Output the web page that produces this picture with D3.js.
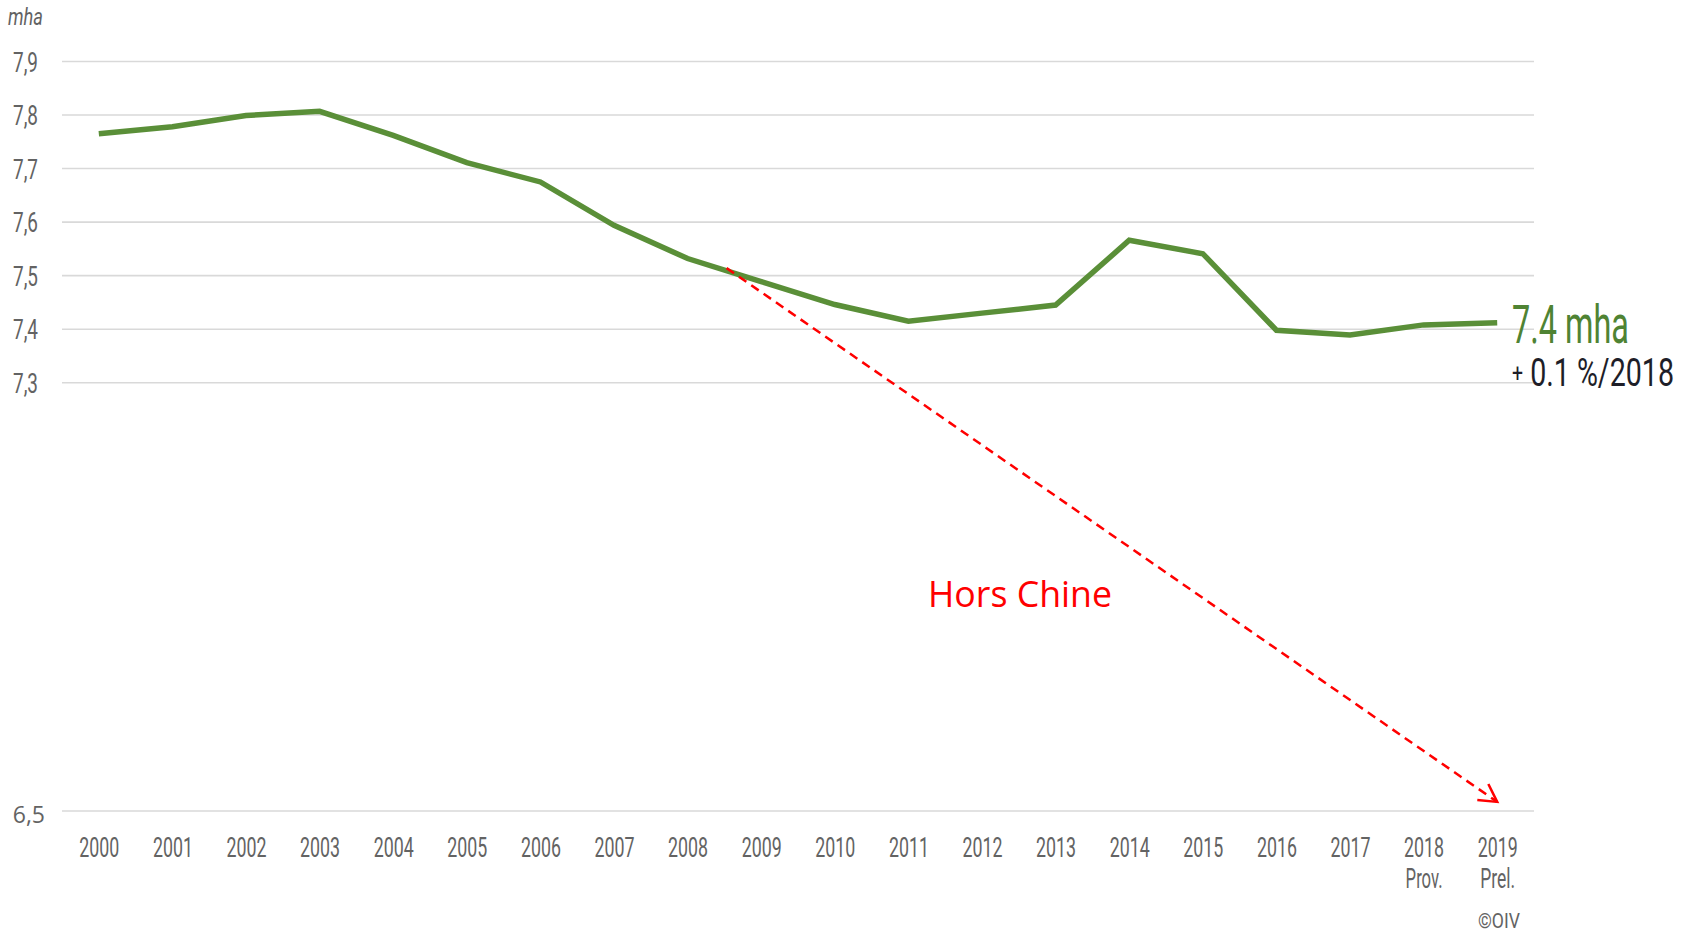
<!DOCTYPE html>
<html>
<head>
<meta charset="utf-8">
<script src="https://cdn.jsdelivr.net/npm/d3@7"></script>
<style>
  html, body { margin: 0; padding: 0; background: #fff; }
  svg { display: block; }
</style>
</head>
<body>
<svg id="chart" width="1696" height="933"></svg>
<script>
// ---- data ----
const years = ["2000","2001","2002","2003","2004","2005","2006","2007","2008","2009",
               "2010","2011","2012","2013","2014","2015","2016","2017","2018","2019"];
const yearNotes = ["","","","","","","","","","","","","","","","","","","Prov.","Prel."];
const area = [7.765, 7.778, 7.799, 7.807, 7.762, 7.711, 7.675, 7.594, 7.532, 7.489,
              7.446, 7.415, 7.430, 7.445, 7.566, 7.541, 7.398, 7.389, 7.408, 7.412];
const yTicks = [6.5, 7.3, 7.4, 7.5, 7.6, 7.7, 7.8, 7.9];
const yTickLabels = ["6,5", "7,3", "7,4", "7,5", "7,6", "7,7", "7,8", "7,9"];
// "Hors Chine" trend arrow (x as year index, y as value)
const trendX = [8.53, 19];
const trendY = [7.514, 6.517];
const unitLabel = "mha";
const lastValueLabel = "7.4 mha";
const changeLabel = ["+", " 0.1 %/2018"];
const trendLabel = "Hors Chine";
const sourceLabel = "©OIV";

// ---- setup ----
const svg = d3.select("#chart");
const x = d3.scaleLinear().domain([-0.5, years.length - 0.5]).range([62, 1534]);
const y = d3.scaleLinear().domain([6.5, 7.9]).range([811, 61.5]);

const grey = "#636363";
const cond = "Roboto, 'Liberation Sans', sans-serif";

// condensed text: font sized so natural width = target width, stretched vertically
function condText(parent, tx, ty, parts, opts) {
  const list = Array.isArray(parts) ? parts : [{ text: parts }];
  const g = parent.append("g");
  const t = g.append("text").attr("x", 0).attr("y", 0)
    .attr("font-family", opts.family || cond)
    .attr("font-size", opts.size)
    .attr("fill", opts.fill || grey)
    .attr("text-anchor", opts.anchor || "start");
  if (opts.italic) t.attr("font-style", "italic");
  list.forEach(p => {
    const s = t.append("tspan").text(p.text);
    if (p.rel) s.attr("font-size", opts.size * p.rel);
    if (p.dy != null) s.attr("dy", p.dy);
  });
  const w = t.node().getComputedTextLength();
  const f1 = opts.size * opts.width / w;
  t.attr("font-size", f1);
  t.selectAll("tspan").each(function(p, i) {
    const pp = list[i];
    if (pp.rel) d3.select(this).attr("font-size", f1 * pp.rel);
    if (pp.dy != null) d3.select(this).attr("dy", pp.dy * f1 / opts.size);
  });
  const sy = opts.size / f1;
  g.attr("transform", `translate(${tx},${ty}) scale(1,${sy})`);
  return g;
}

// gridlines
svg.append("g").selectAll("line").data(yTicks).join("line")
  .attr("x1", x.range()[0]).attr("x2", x.range()[1])
  .attr("y1", d => y(d)).attr("y2", d => y(d))
  .attr("stroke", "#d9d9d9").attr("stroke-width", 1.6);

// y axis labels
const yAxis = d3.axisLeft(y).tickValues(yTicks).tickSize(0)
  .tickFormat((d, i) => yTickLabels[i]);
const gy = svg.append("g").attr("transform", `translate(${x.range()[0]},0)`).call(yAxis);
gy.select(".domain").remove();
gy.selectAll(".tick").each(function(d, i) {
  const g = d3.select(this);
  g.select("text").remove();
  if (d === 6.5) {
    g.append("text").attr("x", -17).attr("y", 3).attr("dy", "0.36em").attr("text-anchor", "end")
      .attr("font-family", "'Open Sans', sans-serif").attr("font-size", 23)
      .attr("fill", grey).text(yTickLabels[i]);
  } else {
    condText(g, -24, 9.6, yTickLabels[i], { size: 27, width: 25, anchor: "end" });
  }
});

// unit label
condText(svg, 8, 25, unitLabel, { size: 23, width: 35, italic: true });

// x axis labels
const xAxis = d3.axisBottom(x).tickValues(d3.range(years.length)).tickSize(0)
  .tickFormat(i => years[i]);
const gx = svg.append("g").attr("transform", `translate(0,${y(6.5)})`).call(xAxis);
gx.select(".domain").remove();
gx.selectAll(".tick").each(function(i) {
  const g = d3.select(this);
  g.select("text").remove();
  condText(g, 0, 46, years[i], { size: 27, width: 40, anchor: "middle" });
  if (yearNotes[i]) {
    condText(g, 0, 77, yearNotes[i], { size: 27, width: yearNotes[i] === "Prov." ? 37 : 35, anchor: "middle" });
  }
});

// main line
const line = d3.line().x((d, i) => x(i)).y(d => y(d));
svg.append("path").datum(area)
  .attr("d", line).attr("fill", "none")
  .attr("stroke", "#5a8f38").attr("stroke-width", 5.5)
  .attr("stroke-linejoin", "miter").attr("stroke-linecap", "butt");

// arrow marker
svg.append("defs").append("marker")
  .attr("id", "arrow").attr("markerUnits", "userSpaceOnUse")
  .attr("viewBox", "-22 -14 26 28").attr("refX", 0).attr("refY", 0)
  .attr("markerWidth", 26).attr("markerHeight", 28).attr("orient", "auto")
  .append("path").attr("d", "M-17.5,-9.7L0,0L-17.5,9.7")
  .attr("fill", "none").attr("stroke", "#ff0000").attr("stroke-width", 2.5);

// trend dashed line
const trendPts = trendX.map((d, i) => [d, trendY[i]]);
svg.append("path").datum(trendPts)
  .attr("d", d3.line().x(d => x(d[0])).y(d => y(d[1])))
  .attr("fill", "none").attr("stroke", "#ff0000").attr("stroke-width", 2.5)
  .attr("stroke-dasharray", "9,6").attr("marker-end", "url(#arrow)");

// trend label
svg.append("text").attr("x", 928).attr("y", 607)
  .attr("font-family", "'Open Sans', sans-serif").attr("font-size", 36)
  .attr("fill", "#ff0000").attr("textLength", 184).attr("lengthAdjust", "spacingAndGlyphs")
  .text(trendLabel);

// end value labels
condText(svg, 1512, 343, lastValueLabel, { size: 53, width: 117, fill: "#4f8333" });
condText(svg, 1512, 386, [{ text: changeLabel[0], rel: 0.68, dy: -4 }, { text: changeLabel[1], dy: 4 }],
  { size: 38, width: 162, fill: "#1e1e28" });

// source
condText(svg, 1478, 928, sourceLabel, { size: 21, width: 42 });
</script>
</body>
</html>
